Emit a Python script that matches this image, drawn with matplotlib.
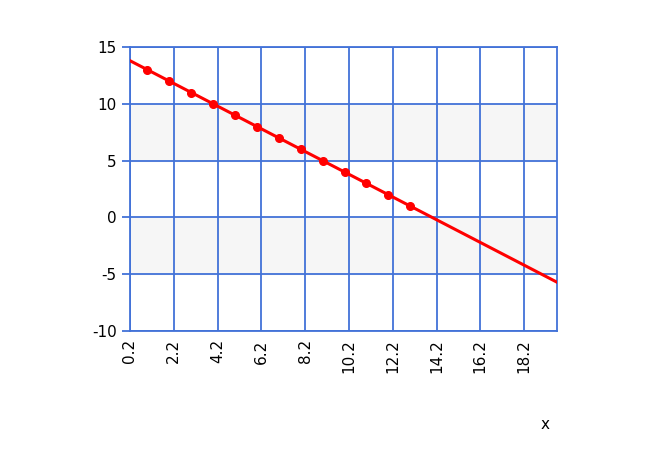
import matplotlib
matplotlib.use("Agg")
import matplotlib.pyplot as plt
import numpy as np

x_pts = [1, 2, 3, 4, 5, 6, 7, 8, 9, 10, 11, 12, 13]
y_pts = [13, 12, 11, 10, 9, 8, 7, 6, 5, 4, 3, 2, 1]
x_ticks = [0.2, 2.2, 4.2, 6.2, 8.2, 10.2, 12.2, 14.2, 16.2, 18.2]
y_ticks = [-10, -5, 0, 5, 10, 15]
x_min, x_max = 0.2, 19.7

grid_col = "#4272d8"
plt.rcParams["axes.unicode_minus"] = False

fig = plt.figure(figsize=(6.71, 4.57), dpi=100)
ax = fig.add_axes([0.1937, 0.2757, 0.6363, 0.6213])

# shaded bands
for lo, hi in [(5, 10), (-5, 0)]:
    ax.axhspan(lo, hi, color="#f6f6f6", zorder=0)

for xv in x_ticks:
    ax.axvline(xv, color=grid_col, lw=1.3, zorder=1)
for yv in y_ticks:
    ax.axhline(yv, color=grid_col, lw=1.3, zorder=1)

# fitted line
slope, icpt = np.polyfit(x_pts, y_pts, 1)
xl = np.array([x_min, x_max])
ax.plot(xl, slope * xl + icpt, color="red", lw=2.2, zorder=3)
ax.plot(x_pts, y_pts, "o", color="red", ms=5.5, zorder=4)

ax.set_xlim(x_min, x_max)
ax.set_ylim(-10, 15)
ax.set_xticks(x_ticks)
ax.set_xticklabels([f"{v:.1f}" for v in x_ticks], rotation=90)
ax.set_yticks(y_ticks)
ax.tick_params(axis="both", labelsize=11, color=grid_col, length=6, width=1.3)
ax.tick_params(axis="x", length=0, pad=6)
for s in ax.spines.values():
    s.set_color(grid_col)
    s.set_linewidth(1.3)

fig.text(0.812, 0.062, "x", fontsize=11, ha="center")

fig.savefig("out.png", dpi=100)
